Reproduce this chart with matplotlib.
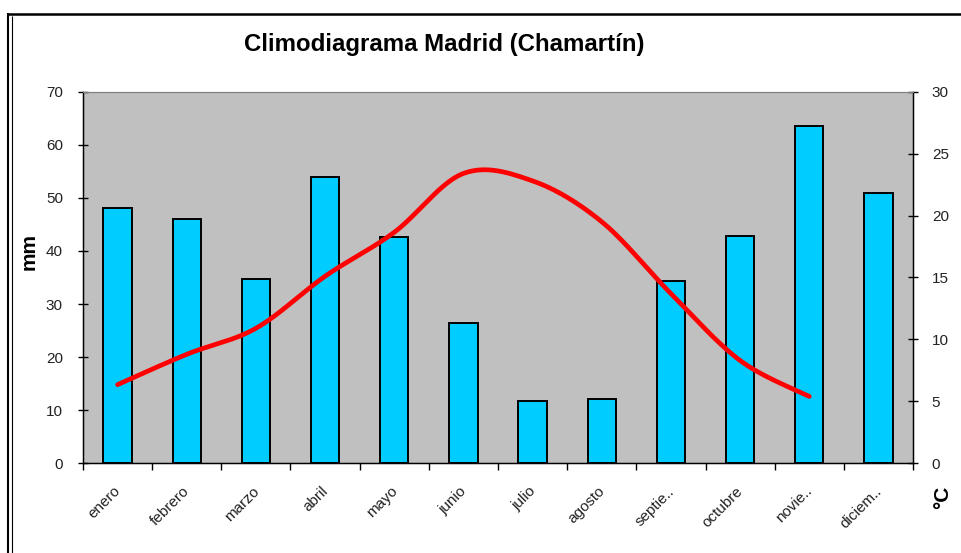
import matplotlib
matplotlib.use("Agg")

import numpy as np
import matplotlib.pyplot as plt
from matplotlib.lines import Line2D

# --- Data ---
MONTHS = ["enero", "febrero", "marzo", "abril", "mayo", "junio",
          "julio", "agosto", "septie..", "octubre", "novie..", "diciem.."]
PRECIP_MM = [48.1, 46.1, 34.8, 53.9, 42.6, 26.4, 11.8, 12.1, 34.3, 42.8, 63.6, 51.0]
TEMP_C = [6.35, 8.8, 10.9, 15.1, 18.65, 23.4, 22.8, 19.5, 13.7, 8.3, 5.4]

MM_TICKS = [0, 10, 20, 30, 40, 50, 60, 70]
C_TICKS = [0, 5, 10, 15, 20, 25, 30]

FONT = "Liberation Sans"
BG = "#C0C0C0"
BAR = "#00CCFF"


def smooth(xs, ys, n=30):
    # catmull-rom through the points, like excel's smoothed line
    xs = np.asarray(xs, float)
    ys = np.asarray(ys, float)
    px = np.concatenate([[xs[0]], xs, [xs[-1]]])
    py = np.concatenate([[ys[0]], ys, [ys[-1]]])
    out_x, out_y = [], []
    t = np.linspace(0, 1, n)
    h00 = 2*t**3 - 3*t**2 + 1
    h10 = t**3 - 2*t**2 + t
    h01 = -2*t**3 + 3*t**2
    h11 = t**3 - t**2
    for i in range(1, len(px) - 2):
        mx0 = (px[i+1] - px[i-1]) / 2
        mx1 = (px[i+2] - px[i]) / 2
        my0 = (py[i+1] - py[i-1]) / 2
        my1 = (py[i+2] - py[i]) / 2
        out_x.append(h00*px[i] + h10*mx0 + h01*px[i+1] + h11*mx1)
        out_y.append(h00*py[i] + h10*my0 + h01*py[i+1] + h11*my1)
    return np.concatenate(out_x), np.concatenate(out_y)


fig = plt.figure(figsize=(9.61, 5.53), dpi=100)
ax = fig.add_axes([83/961, 1 - 463.3/553, 830/961, 371.6/553])
ax.set_facecolor(BG)

x = np.arange(len(MONTHS))
ax.bar(x, PRECIP_MM, width=0.41, color=BAR, edgecolor="black", linewidth=1.4, zorder=2)
ax.set_xlim(-0.5, len(MONTHS) - 0.5)
ax.set_ylim(0, 70)
ax.set_yticks(MM_TICKS)
ax.set_yticklabels([str(v) for v in MM_TICKS], fontsize=11, family=FONT, color="#222222")
ax.tick_params(axis="y", direction="inout", length=7, width=1, pad=11)

ax.set_xticks(x - 0.06)
ax.set_xticklabels(MONTHS, rotation=45, ha="right", va="top",
                   rotation_mode="anchor", fontsize=11, family=FONT, color="#222222")
ax.tick_params(axis="x", length=0, pad=15)
ax.set_xticks(np.arange(-0.5, len(MONTHS)), minor=True)
ax.tick_params(axis="x", which="minor", direction="out", length=5, width=1)

for side in ["left", "bottom", "right"]:
    ax.spines[side].set_color("black")
    ax.spines[side].set_linewidth(1)
ax.spines["top"].set_color("#808080")

ax2 = ax.twinx()
ax2.set_ylim(0, 30)
ax2.set_yticks(C_TICKS)
ax2.set_yticklabels([str(v) for v in C_TICKS], fontsize=11, family=FONT, color="#222222")
ax2.tick_params(axis="y", direction="inout", length=7, width=1, pad=10)
sx, sy = smooth(np.arange(len(TEMP_C)), TEMP_C)
ax2.plot(sx, sy, color="#FF0000", linewidth=3.4, solid_capstyle="round", zorder=3)
for side in ["left", "bottom", "right"]:
    ax2.spines[side].set_color("black")
ax2.spines["top"].set_color("#808080")

fig.text(444/961, 1 - 45/553, "Climodiagrama Madrid (Chamartín)", ha="center", va="center",
         fontsize=17.3, fontweight="bold", family=FONT)
fig.text(29/961, 1 - 252/553, "mm", rotation=90, ha="center", va="center",
         fontsize=15, fontweight="bold", family=FONT)
fig.text(943/961, 1 - 497/553, "°C", rotation=90, ha="center", va="center",
         fontsize=15, fontweight="bold", family=FONT)

# chart frame (cropped on the right and bottom)
fig.add_artist(Line2D([7.5/961, 7.5/961], [0, 1 - 13/553], transform=fig.transFigure,
                      color="black", linewidth=1.5, solid_capstyle="butt"))
fig.add_artist(Line2D([11.5/961, 11.5/961], [0, 1 - 16/553], transform=fig.transFigure,
                      color="black", linewidth=0.8, solid_capstyle="butt"))
fig.add_artist(Line2D([6.5/961, 1], [1 - 13.5/553, 1 - 13.5/553], transform=fig.transFigure,
                      color="black", linewidth=1.8, solid_capstyle="butt"))

fig.savefig("out.png", dpi=100)
